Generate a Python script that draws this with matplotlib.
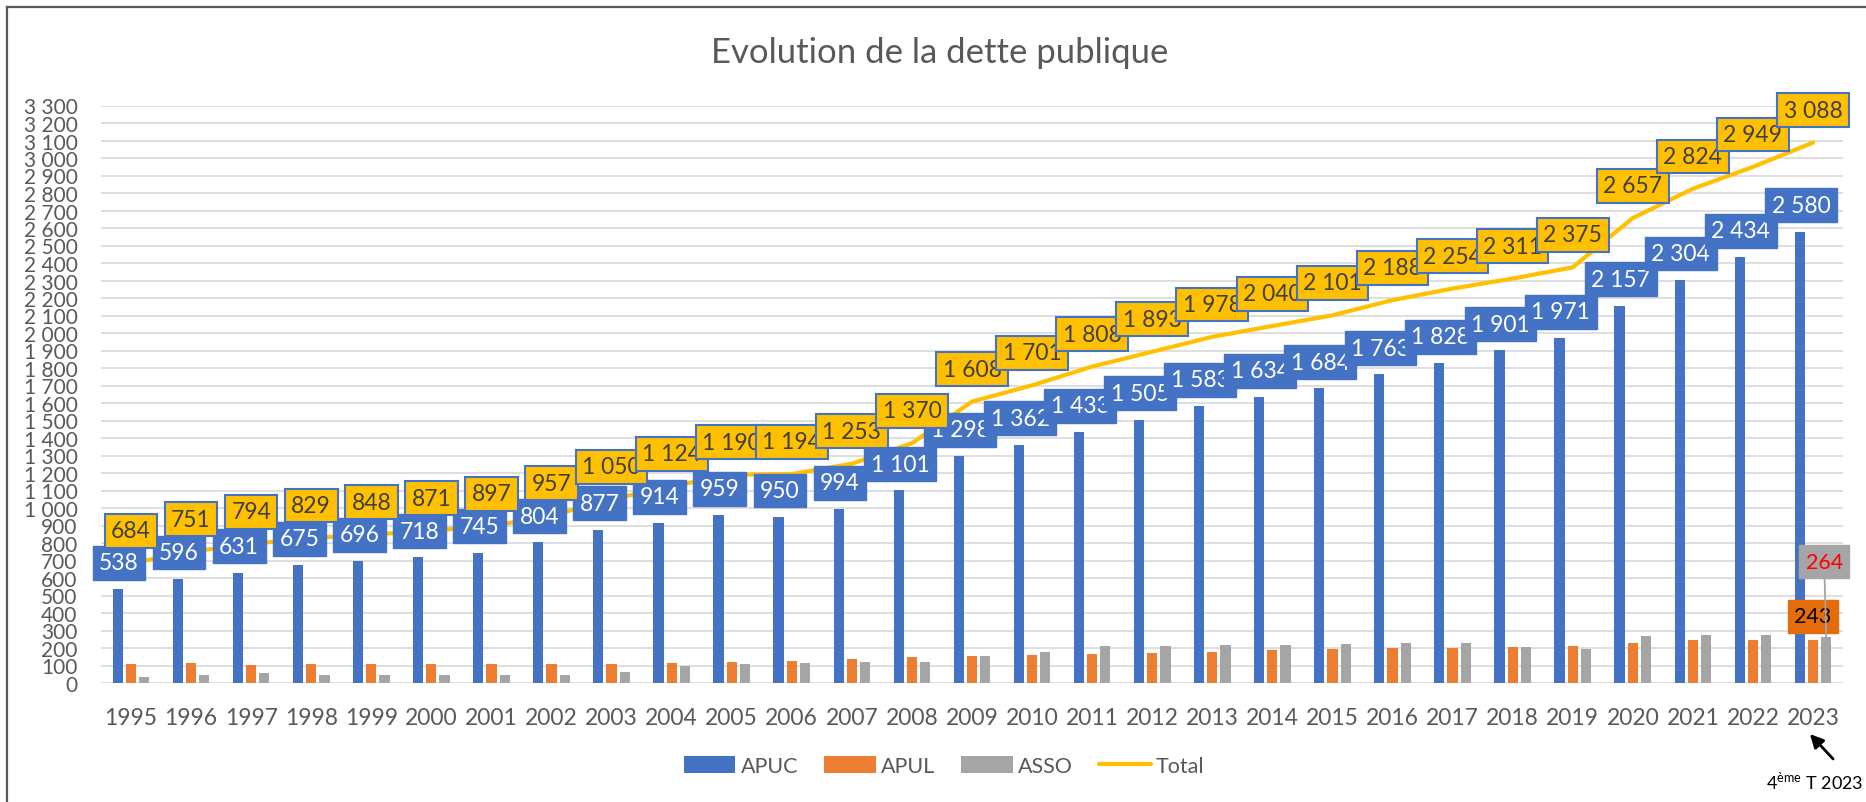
import numpy as np
import matplotlib.pyplot as plt

# Dette publique (Md EUR) par sous-secteur, 1995-2023
years = [1995, 1996, 1997, 1998, 1999, 2000, 2001, 2002, 2003, 2004,
         2005, 2006, 2007, 2008, 2009, 2010, 2011, 2012, 2013, 2014,
         2015, 2016, 2017, 2018, 2019, 2020, 2021, 2022, 2023]
apuc = [538, 596, 631, 675, 696, 718, 745, 804, 877, 914,
        959, 950, 994, 1101, 1298, 1362, 1433, 1505, 1583, 1634,
        1684, 1763, 1828, 1901, 1971, 2157, 2304, 2434, 2580]
apul = [110, 112, 105, 107, 106, 106, 107, 106, 108, 113,
        120, 127, 137, 148, 156, 162, 166, 174, 180, 186,
        196, 199, 200, 204, 210, 230, 243, 243, 243]
asso = [36, 43, 58, 47, 46, 47, 45, 47, 65, 97,
        111, 117, 122, 121, 154, 177, 209, 214, 215, 220,
        221, 226, 226, 206, 194, 270, 277, 272, 264]
total = [684, 751, 794, 829, 848, 871, 897, 957, 1050, 1124,
         1190, 1194, 1253, 1370, 1608, 1701, 1808, 1893, 1978, 2040,
         2101, 2188, 2254, 2311, 2375, 2657, 2824, 2949, 3088]

BLUE = '#4472C4'
ORANGE = '#ED7D31'
GREY = '#A5A5A5'
GOLD = '#FFC000'
TXT = '#595959'

plt.rcParams['font.family'] = ['Lato', 'DejaVu Sans']


def fr(v):
    # separateur de milliers a la francaise
    return f"{v:,}".replace(",", " ")


W, H = 1866, 803
fig = plt.figure(figsize=(W / 100, H / 100), dpi=100)
ax = fig.add_axes([101 / W, 1 - 684 / H, (1843 - 101) / W, (684 - 106.5) / H])

x = np.arange(len(years))
bw = 0.17
b1 = ax.bar(x - 0.22, apuc, bw, color=BLUE, label='APUC', zorder=2)
b2 = ax.bar(x, apul, bw, color=ORANGE, label='APUL', zorder=2)
b3 = ax.bar(x + 0.22, asso, bw, color=GREY, label='ASSO', zorder=2)
l1, = ax.plot(x, total, color=GOLD, lw=3, label='Total', zorder=3, solid_capstyle='round')

ax.set_xlim(-0.5, len(years) - 0.5)
ax.set_ylim(0, 3300)
ticks = list(range(0, 3301, 100))
ax.set_yticks(ticks)
ax.set_yticklabels([fr(t) for t in ticks])
ax.set_xticks(x)
ax.set_xticklabels(years)
ax.tick_params(length=0, labelcolor=TXT)
ax.tick_params(axis='y', pad=17, labelsize=15)
ax.tick_params(axis='x', pad=17, labelsize=16.5)
ax.grid(axis='y', color='#D9D9D9', lw=1.2)
ax.set_axisbelow(True)
for s in ax.spines.values():
    s.set_visible(False)

# etiquettes APUC
for i in x:
    ax.annotate(fr(apuc[i]), (i - 0.2, apuc[i] + 150), ha='center', va='center',
                fontsize=16.5, color='white', zorder=4, annotation_clip=False,
                bbox=dict(boxstyle='square,pad=0.28', fc=BLUE, ec=BLUE))
# etiquettes Total
for i in x:
    ax.annotate(fr(total[i]), (i, total[i] + 185), ha='center', va='center',
                fontsize=16.5, color='#404040', zorder=5, annotation_clip=False,
                bbox=dict(boxstyle='square,pad=0.28', fc=GOLD, ec=BLUE, lw=1.5))

# etiquettes 2023 pour APUL et ASSO
last = len(years) - 1
ax.annotate(fr(apul[last]), (last, apul[last]), xytext=(0, 24), textcoords='offset pixels',
            ha='center', va='center', fontsize=15.5, color='black', zorder=6,
            bbox=dict(boxstyle='square,pad=0.3', fc='#E46C0A', ec='#E46C0A'))
ax.annotate(fr(asso[last]), (last + 0.22, asso[last]), xytext=(-2, 75), textcoords='offset pixels',
            ha='center', va='center', fontsize=15.5, color='red', zorder=7,
            bbox=dict(boxstyle='square,pad=0.3', fc=GREY, ec=GREY),
            arrowprops=dict(arrowstyle='-', color=GREY, lw=1.3, shrinkA=0, shrinkB=0))

fig.text(940 / W, 1 - 53 / H, 'Evolution de la dette publique', ha='center', va='center',
         fontsize=25, color=TXT)

fig.legend([b1, b2, b3, l1], ['APUC', 'APUL', 'ASSO', 'Total'], loc='center',
           bbox_to_anchor=(944 / W, 1 - 767 / H), ncol=4, frameon=False,
           fontsize=15.5, handlelength=2.4, handleheight=0.87, columnspacing=1.2,
           handletextpad=0.25, labelcolor=TXT)

# cadre du graphique
fig.add_artist(plt.Line2D([7 / W, 1], [1 - 8 / H, 1 - 8 / H], transform=fig.transFigure,
                          color='#595959', lw=1.6))
fig.add_artist(plt.Line2D([7 / W, 7 / W], [0, 1 - 8 / H], transform=fig.transFigure,
                          color='#595959', lw=1.6))

# note 4eme trimestre
ax.annotate('', xy=(1808, H - 733), xycoords='figure pixels', xytext=(1835, H - 762),
            textcoords='figure pixels', annotation_clip=False,
            arrowprops=dict(arrowstyle='-|>', color='black', lw=2, mutation_scale=20))
fig.text(1766 / W, 1 - 789 / H, r'4$^{\mathregular{ème}}$ T 2023', ha='left', va='baseline',
         fontsize=13, color='black')

fig.savefig('out.png', dpi=100)
